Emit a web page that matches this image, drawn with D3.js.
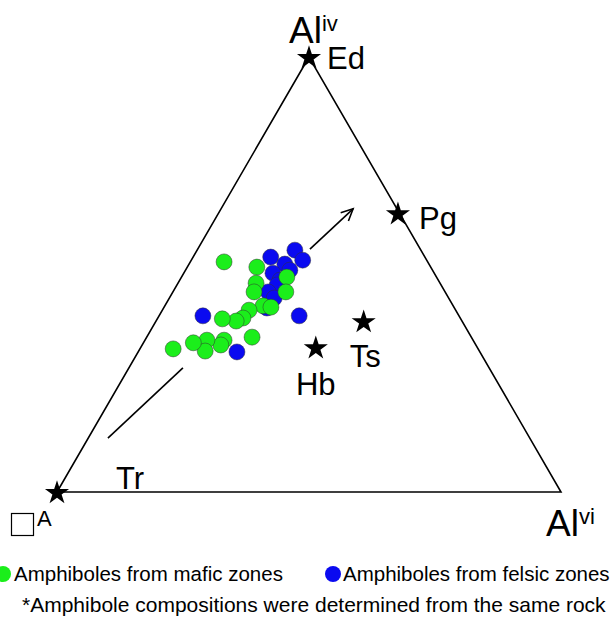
<!DOCTYPE html>
<html>
<head>
<meta charset="utf-8">
<script src="https://cdn.jsdelivr.net/npm/d3@7"></script>
<style>
  html, body { margin: 0; padding: 0; background: #fff; }
  svg { display: block; font-family: "Liberation Sans", Arial, sans-serif; }
</style>
</head>
<body>
<svg id="chart" width="614" height="618"></svg>
<script>
// Ternary components: AlIV (top), vacancy A (bottom-left), AlVI (bottom-right). Values are fractions.
const maficAlIV = [0.529,0.517,0.480,0.460,0.494,0.460,0.428,0.425,0.418,0.400,0.393,0.398,0.356,0.349,0.338,0.349,0.324,0.343,0.329];
const maficAlVI = [0.067,0.138,0.155,0.161,0.209,0.224,0.195,0.212,0.172,0.169,0.159,0.129,0.209,0.157,0.156,0.123,0.132,0.099,0.066];
const felsicAlIV = [0.540,0.556,0.533,0.524,0.510,0.503,0.487,0.476,0.460,0.446,0.423,0.405,0.405,0.322];
const felsicAlVI = [0.154,0.194,0.221,0.190,0.207,0.177,0.199,0.199,0.189,0.208,0.205,0.087,0.278,0.196];
const endNames = ["Ed","Pg","Hb","Ts","Tr"];
const endAlIV  = [1.000,0.641,0.333,0.393,0.000];
const endAlVI  = [0.000,0.356,0.347,0.412,0.000];
const seriesNames = ["Amphiboles from mafic zones","Amphiboles from felsic zones"];
const seriesColors = ["#1bee1b","#0a0af0"];
const footnote = "*Amphibole compositions were determined from the same rock";
// trend arrow (ternary start and end)
const arrowAlIV = [0.124, 0.651];
const arrowAlVI = [0.039, 0.262];

const svg = d3.select("#chart");
const x = d3.scaleLinear().domain([0,1]).range([57,561]);
const y = d3.scaleLinear().domain([0,1]).range([492,57]);
const px = (a,c) => x(c + a/2);
const py = (a) => y(a);

// triangle
const tri = [[1,0],[0,0],[0,1]];
svg.append("path")
  .attr("d", d3.line()(tri.map(([a,c]) => [px(a,c), py(a)])) + "Z")
  .attr("fill","none").attr("stroke","#000").attr("stroke-width",1.6);

// arrow (broken behind the data cloud)
const ax0 = px(arrowAlIV[0],arrowAlVI[0]), ay0 = py(arrowAlIV[0]);
const ax1 = px(arrowAlIV[1],arrowAlVI[1]), ay1 = py(arrowAlIV[1]);
const seg = (t0,t1) => svg.append("line")
  .attr("x1", ax0 + (ax1-ax0)*t0).attr("y1", ay0 + (ay1-ay0)*t0)
  .attr("x2", ax0 + (ax1-ax0)*t1).attr("y2", ay0 + (ay1-ay0)*t1)
  .attr("stroke","#000").attr("stroke-width",1.6);
seg(0, 0.306);
seg(0.824, 1);
{
  const ang = Math.atan2(ay1-ay0, ax1-ax0);
  const L = 13, w = 0.45;
  const p1 = [ax1 - L*Math.cos(ang - w), ay1 - L*Math.sin(ang - w)];
  const p2 = [ax1 - L*Math.cos(ang + w), ay1 - L*Math.sin(ang + w)];
  svg.append("path").attr("d", `M${p1}L${ax1},${ay1}L${p2}`)
    .attr("fill","none").attr("stroke","#000").attr("stroke-width",1.6);
}

// data points
const g = svg.append("g");
const felsic = felsicAlIV.map((a,i) => ({a, c: felsicAlVI[i], s: 1}));
const mafic = maficAlIV.map((a,i) => ({a, c: maficAlVI[i], s: 0}));
const ordered = felsic.slice(0, felsic.length-2).concat(mafic).concat(felsic.slice(felsic.length-2));
g.selectAll("circle").data(ordered).join("circle")
  .attr("cx", d => px(d.a,d.c)).attr("cy", d => py(d.a)).attr("r", 8)
  .attr("fill", d => seriesColors[d.s]).attr("stroke","#333").attr("stroke-width",0.5);

// end-member stars
const star = d3.symbol().type(d3.symbolStar).size(180);
endNames.forEach((n,i) => {
  svg.append("path").attr("d", star())
    .attr("transform", `translate(${px(endAlIV[i],endAlVI[i])},${py(endAlIV[i])+1})`)
    .attr("fill","#000");
});
const lblOff = {Ed:[18,12,"start"], Pg:[21,16,"start"], Hb:[0,48,"middle"], Ts:[-14,46,"start"], Tr:[59,-3,"start"]};
endNames.forEach((n,i) => {
  const o = lblOff[n];
  svg.append("text").attr("x", px(endAlIV[i],endAlVI[i]) + o[0]).attr("y", py(endAlIV[i]) + o[1])
    .attr("text-anchor", o[2]).attr("font-size", 31).text(n);
});

// vertex labels
const t1 = svg.append("text").attr("x", 289).attr("y", 43).attr("font-size", 37);
t1.append("tspan").text("Al");
t1.append("tspan").attr("dy", -12).attr("font-size", 22).text("iv");
const t2 = svg.append("text").attr("x", 546).attr("y", 536).attr("font-size", 37);
t2.append("tspan").text("Al");
t2.append("tspan").attr("dy", -12).attr("font-size", 22).text("vi");
svg.append("rect").attr("x", 11.5).attr("y", 513.5).attr("width", 22).attr("height", 22)
  .attr("fill","none").attr("stroke","#000").attr("stroke-width",1.2);
svg.append("text").attr("x", 37).attr("y", 526).attr("font-size", 22).text("A");

// legend
const legX = [3, 333], txtX = [14, 343];
seriesNames.forEach((n,i) => {
  svg.append("circle").attr("cx", legX[i]).attr("cy", 574).attr("r", 8).attr("fill", seriesColors[i]);
  svg.append("text").attr("x", txtX[i]).attr("y", 581).attr("font-size", 20.5).text(n);
});
svg.append("text").attr("x", 22).attr("y", 612).attr("font-size", 21).text(footnote);
</script>
</body>
</html>
